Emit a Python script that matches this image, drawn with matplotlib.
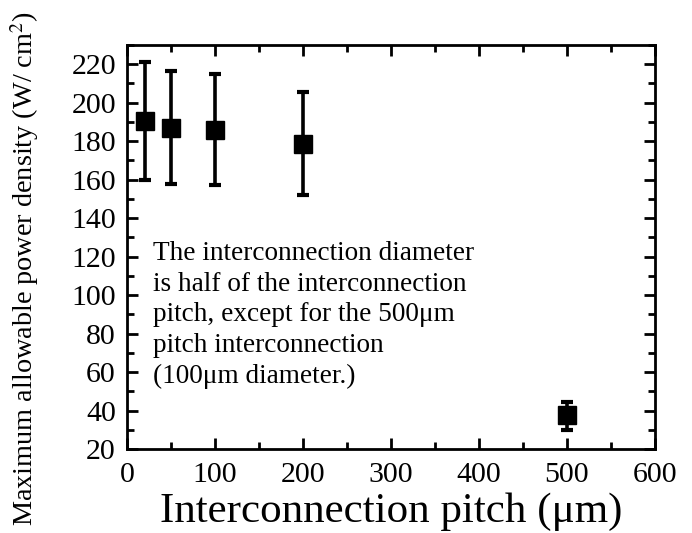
import matplotlib
matplotlib.use("Agg")
import matplotlib.pyplot as plt
from matplotlib.ticker import MultipleLocator

pitch = [20, 50, 100, 200, 500]
power = [190.5, 187, 186, 178.5, 37.5]
err_low = [160, 157.7, 157, 151.8, 30]
err_high = [221, 216.5, 215, 205.4, 44.3]

plt.rcParams['font.family'] = ['Liberation Serif', 'DejaVu Serif']
plt.rcParams['mathtext.fontset'] = 'stix'

W, H = 692, 533
fig = plt.figure(figsize=(W/100, H/100), dpi=100)
ax = fig.add_axes([127/W, 1-449/H, (655-127)/W, (449-45)/H])

yerr = [[p - l for p, l in zip(power, err_low)], [h - p for p, h in zip(power, err_high)]]
ax.errorbar(pitch, power, yerr=yerr, fmt='s', color='black', ms=13,
            elinewidth=2.6, capsize=4, capthick=3, zorder=3)

ax.set_xlim(0, 600)
ax.set_ylim(20, 230)
ax.xaxis.set_major_locator(MultipleLocator(100))
ax.xaxis.set_minor_locator(MultipleLocator(50))
ax.yaxis.set_major_locator(MultipleLocator(20))
ax.yaxis.set_minor_locator(MultipleLocator(10))
ax.tick_params(which='both', direction='in', top=True, right=True, width=2, labelsize=21.5)
ax.tick_params(axis='y', pad=8)
ax.tick_params(axis='x', pad=9)
ax.tick_params(which='major', length=8)
ax.tick_params(which='minor', length=5)
for s in ax.spines.values():
    s.set_linewidth(2)

ax.set_xlabel('Interconnection pitch (μm)', fontsize=31, labelpad=3.5)
ax.set_ylabel('Maximum allowable power density (W/ cm$^2$)', fontsize=20.3)
ax.yaxis.set_label_coords(25/W, 1-268/H, transform=fig.transFigure)
ax.yaxis.label.set_verticalalignment('center')

fig.text(153/W, 1-241/H, 'The interconnection diameter\nis half of the interconnection\npitch, except for the 500μm\npitch interconnection\n(100μm diameter.)',
         fontsize=19.6, va='top', ha='left', linespacing=1.3)

fig.savefig('out.png', dpi=100)
